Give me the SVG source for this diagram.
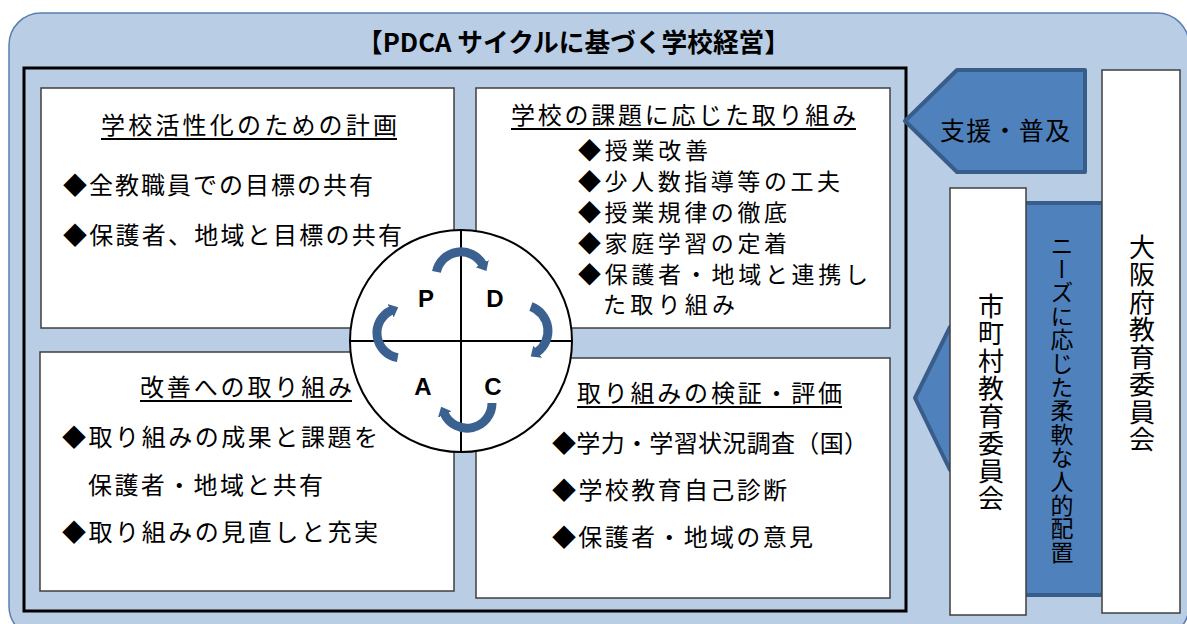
<svg xmlns="http://www.w3.org/2000/svg" width="1187" height="624" viewBox="0 0 1187 624">
<style>
.jp{font-family:"Noto Sans CJK JP","Noto Sans CJK SC",sans-serif;font-size:24px;fill:#000}
.sm{font-size:23px}
.box{fill:#fff;stroke:#3f3f3f;stroke-width:1.5}
.ul{stroke:#000;stroke-width:2}
.blue{fill:#4f81bd;stroke:#385d8a;stroke-width:4;stroke-linejoin:round}
.arc{fill:none;stroke:#3a6190;stroke-width:9;marker-end:url(#ah)}
.lt{font-family:"Liberation Sans",Arial,sans-serif;font-weight:bold;font-size:24px;fill:#000;text-anchor:middle}
.vt{font-family:"Noto Sans CJK JP","Noto Sans CJK SC",sans-serif;writing-mode:vertical-rl;text-anchor:middle;fill:#000}
</style>
<defs>
<marker id="ah" markerUnits="userSpaceOnUse" markerWidth="18" markerHeight="18" viewBox="0 0 18 18" refX="1" refY="9" orient="auto">
<path d="M0,1.5 L8.5,9 L0,16.5 z" fill="#3a6190"/>
</marker>
</defs>
<rect x="0" y="0" width="1187" height="624" fill="#fff"/>
<g id="frame">
<rect x="9" y="13" width="1180" height="625" rx="32" fill="#b9cde5" stroke="#5b7fae" stroke-width="1.5"/>
<text class="jp" x="357" y="52" style="font-size:26px;font-weight:bold" textLength="433" lengthAdjust="spacingAndGlyphs">【PDCA サイクルに基づく学校経営】</text>
<rect x="24" y="68" width="882" height="543" fill="none" stroke="#000" stroke-width="3"/>
</g>
<g id="plan">
<rect class="box" x="41" y="88" width="413" height="240"/>
<text class="jp" x="101" y="134" textLength="296">学校活性化のための計画</text>
<line class="ul" x1="101" y1="139" x2="397" y2="139"/>
<text class="jp" x="63" y="194" textLength="310">◆全教職員での目標の共有</text>
<text class="jp" x="63" y="244" textLength="339">◆保護者、地域と目標の共有</text>
</g>
<g id="do">
<rect class="box" x="476" y="88" width="414" height="240"/>
<text class="jp" x="511" y="124" textLength="345">学校の課題に応じた取り組み</text>
<line class="ul" x1="511" y1="129" x2="856" y2="129"/>
<text class="jp sm" x="578" y="159" textLength="130">◆授業改善</text>
<text class="jp sm" x="578" y="190" textLength="262">◆少人数指導等の工夫</text>
<text class="jp sm" x="578" y="221" textLength="209">◆授業規律の徹底</text>
<text class="jp sm" x="578" y="252" textLength="209">◆家庭学習の定着</text>
<text class="jp sm" x="578" y="283" textLength="290">◆保護者・地域と連携し</text>
<text class="jp sm" x="603" y="313" textLength="132">た取り組み</text>
</g>
<g id="act">
<rect class="box" x="40" y="352" width="414" height="239"/>
<text class="jp" x="140" y="396" textLength="212">改善への取り組み</text>
<line class="ul" x1="140" y1="401" x2="352" y2="401"/>
<text class="jp" x="62" y="446" textLength="316">◆取り組みの成果と課題を</text>
<text class="jp" x="88" y="494" textLength="235">保護者・地域と共有</text>
<text class="jp" x="62" y="541" textLength="316">◆取り組みの見直しと充実</text>
</g>
<g id="check">
<rect class="box" x="476" y="358" width="414" height="240"/>
<text class="jp" x="577" y="402" textLength="265">取り組みの検証・評価</text>
<line class="ul" x1="577" y1="407" x2="842" y2="407"/>
<text class="jp" x="552" y="452" textLength="316">◆学力・学習状況調査（国）</text>
<text class="jp" x="552" y="499" textLength="235">◆学校教育自己診断</text>
<text class="jp" x="552" y="546" textLength="261">◆保護者・地域の意見</text>
</g>
<g id="cycle">
<circle cx="461" cy="341" r="111" fill="#fff" stroke="#000" stroke-width="2"/>
<line x1="461" y1="230" x2="461" y2="452" stroke="#000" stroke-width="2"/>
<line x1="350" y1="341" x2="572" y2="341" stroke="#000" stroke-width="2"/>
<text class="lt" x="426" y="307">P</text>
<text class="lt" x="495" y="307">D</text>
<text class="lt" x="423" y="395">A</text>
<text class="lt" x="493" y="395">C</text>
</g>
<g id="connectors">
<path class="arc" d="M436.5,271.8 A25,25 0 0 1 482.7,264.5"/>
<path class="arc" d="M530.9,306.6 A26,26 0 0 1 536.9,352.3"/>
<path class="arc" d="M492,403 A25,25 0 0 1 444.3,413.6"/>
<path class="arc" d="M397.7,357.6 A25,25 0 0 1 391.4,310.3"/>
</g>
<g id="support">
<polygon class="blue" points="905,121 957,70 1085,70 1085,172 957,172"/>
<text class="jp" x="940" y="140" style="font-size:25px" textLength="130">支援・普及</text>
</g>
<g id="staffing">
<rect class="blue" x="1020" y="203" width="83" height="392"/>
<text class="vt" x="1062" y="399" style="font-size:23px;letter-spacing:0.6px">ニーズに応じた柔軟な人的配置</text>
</g>
<g id="municipal">
<polygon class="blue" points="990,327 950,327 915,398 950,470 990,470"/>
<rect class="box" x="950" y="188" width="76" height="427"/>
<text class="vt" x="991" y="403" style="font-size:26px;letter-spacing:1.5px">市町村教育委員会</text>
</g>
<g id="prefecture">
<rect class="box" x="1102" y="70" width="78" height="543"/>
<text class="vt" x="1142" y="344" style="font-size:26px;letter-spacing:1.5px">大阪府教育委員会</text>
</g>
</svg>
